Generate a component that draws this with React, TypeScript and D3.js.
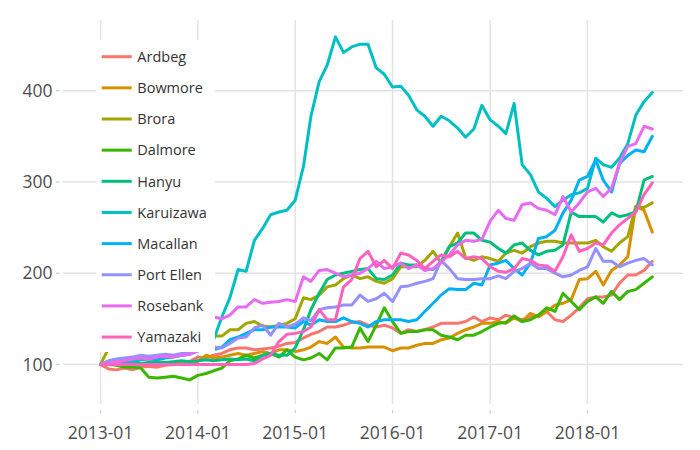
import React from "react";
import * as d3 from "d3";

const seriesNames = ["Ardbeg","Bowmore","Brora","Dalmore","Hanyu","Karuizawa","Macallan","Port Ellen","Rosebank","Yamazaki"];
const colors = ["#F8766D","#D89000","#A3A500","#39B600","#00BF7D","#00BFC4","#00B0F6","#9590FF","#E76BF3","#FF62BC"];
const months = d3.timeMonth.range(new Date(2013, 0, 1), new Date(2018, 9, 1));
const xTickLabels = ["2013-01","2014-01","2015-01","2016-01","2017-01","2018-01"];
const yTicks = [100, 200, 300, 400];

const ardbeg = [100,95,94,96,94,97,98,97,99,100,101,103,108,107,
  110,112,116,118,118,116,117,118,120,123,124,129,133,136,
  141,141,143,146,147,143,141,143,140,134,138,136,138,141,
  145,145,145,147,152,147,151,149,154,151,149,152,154,158,
  149,147,154,162,172,174,174,176,189,198,198,203,213];
const bowmore = [100,104,102,101,100,101,100,102,100,101,103,100,103,110,
  107,108,110,112,110,112,114,112,116,116,114,116,119,125,
  123,130,119,118,118,119,119,119,115,118,118,121,123,123,
  127,129,134,138,141,145,145,147,145,151,147,156,152,158,
  165,167,171,193,194,202,187,203,209,218,273,269,245];
const brora = [100,118,117,119,120,122,123,125,126,128,129,130,131,131,
  131,131,138,138,145,147,142,141,143,145,150,173,171,176,
  185,187,194,198,194,196,191,189,194,207,207,207,214,224,
  211,229,244,217,214,218,216,213,222,225,222,229,233,235,
  235,233,233,233,233,236,229,224,233,240,273,272,277];
const dalmore = [100,100,99,97,97,96,86,85,86,87,85,83,88,90,
  93,96,104,106,110,107,110,112,108,116,108,105,107,112,
  105,118,118,119,140,125,143,162,147,134,136,136,138,138,
  132,130,127,132,132,136,141,145,146,153,147,149,154,162,
  158,178,169,160,169,174,167,180,171,180,182,189,196];
const hanyu = [100,101,100,101,102,101,102,103,102,103,104,103,104,105,
  104,105,106,105,106,104,110,112,110,110,118,138,160,178,
  193,198,200,202,204,205,194,193,198,211,209,209,205,204,
  213,229,233,244,244,236,234,227,222,231,233,225,220,224,
  225,231,267,262,262,262,256,266,262,264,267,302,306];
const karuizawa = [100,101,103,104,103,105,106,105,107,108,110,112,116,120,
  127,152,173,204,202,236,249,264,267,269,280,317,372,410,
  428,459,442,448,451,451,425,418,404,405,395,379,372,361,
  372,367,359,349,358,384,368,361,353,386,319,308,289,282,
  273,280,286,288,293,326,319,316,326,342,373,388,398];
const macallan = [100,103,105,104,106,108,107,106,108,109,110,111,115,118,
  116,119,127,130,134,138,138,141,141,141,140,147,143,149,
  147,147,151,147,145,141,147,149,149,149,147,149,158,167,
  176,183,182,182,189,187,209,211,214,205,198,211,238,240,
  247,266,280,302,306,324,302,289,320,329,335,333,350];
const portEllen = [100,104,106,107,108,110,109,110,111,110,112,113,115,117,
  119,118,123,129,130,140,143,132,145,141,144,151,148,160,
  162,163,165,165,176,169,172,178,169,185,186,189,191,194,
  214,205,194,193,193,194,194,197,194,202,205,211,205,205,
  200,196,198,203,207,227,213,213,207,211,214,216,209];
const rosebank = [100,101,103,104,106,107,106,108,109,108,110,111,115,145,
  152,150,154,163,163,171,167,168,169,171,169,196,191,203,
  204,200,196,198,200,205,213,205,207,211,205,209,203,205,
  212,220,231,236,235,237,257,269,260,258,275,277,271,269,
  264,284,267,277,289,293,284,293,320,339,342,361,358];
const yamazaki = [100,100,100,100,100,100,100,100,100,100,100,100,100,100,
  100,100,100,100,100,101,106,110,125,133,134,136,141,160,
  149,149,185,193,216,224,207,214,205,222,220,214,205,213,
  220,218,224,216,218,216,207,202,201,205,216,214,209,208,
  202,218,242,224,227,233,231,244,253,260,267,286,299];

const seriesValues = [ardbeg, bowmore, brora, dalmore, hanyu, karuizawa, macallan, portEllen, rosebank, yamazaki];

const W = 700, H = 450;
const plot = { left: 63, right: 683, top: 20, bottom: 404 };
const FONT = "'Open Sans', 'DejaVu Sans', sans-serif";

export default function App() {
  const x = d3.scaleTime()
    .domain([new Date(2013, 0, 1), new Date(2018, 0, 1)])
    .range([100.5, 587.5]);
  const y = d3.scaleLinear().domain([100, 400]).range([364.4, 90.7]);
  const parse = d3.timeParse("%Y-%m");
  const fmt = d3.timeFormat("%Y-%m");
  const xTicks = xTickLabels.map((s) => parse(s) as Date);

  const line = d3.line<[Date, number]>()
    .x((d) => x(d[0]))
    .y((d) => y(d[1]))
    .curve(d3.curveLinear);

  const legX = 96, legY = 40, legW = 119, legH = 312;
  const itemY0 = 56.7, itemStep = 31.15;

  return (
    <svg width={W} height={H} style={{ position: "absolute", left: 0, top: 0, background: "#fff" }}>
      <defs>
        <clipPath id="plotclip">
          <rect x={plot.left} y={plot.top} width={plot.right - plot.left} height={plot.bottom - plot.top} />
        </clipPath>
      </defs>
      <rect x={0} y={0} width={W} height={H} fill="#fff" />
      {yTicks.map((t) => (
        <line key={"gy" + t} x1={plot.left} x2={plot.right} y1={y(t)} y2={y(t)} stroke="#e3e3e3" strokeWidth={1.5} />
      ))}
      {xTicks.map((t, i) => (
        <line key={"gx" + i} x1={x(t)} x2={x(t)} y1={plot.top} y2={plot.bottom} stroke="#e3e3e3" strokeWidth={1.5} />
      ))}
      {yTicks.map((t) => (
        <line key={"ty" + t} x1={56} x2={59.5} y1={y(t)} y2={y(t)} stroke="#cfcfcf" strokeWidth={1.3} />
      ))}
      {xTicks.map((t, i) => (
        <line key={"tx" + i} x1={x(t)} x2={x(t)} y1={410} y2={413.5} stroke="#cfcfcf" strokeWidth={1.3} />
      ))}
      {yTicks.map((t) => (
        <text key={"ly" + t} x={52.5} y={y(t)} dy="0.36em" textAnchor="end" fontFamily={FONT} fontSize={17.5} fill="#4d4d4d">{t}</text>
      ))}
      {xTicks.map((t, i) => (
        <text key={"lx" + i} x={x(t)} y={433} dy="0.36em" textAnchor="middle" fontFamily={FONT} fontSize={17.5} fill="#4d4d4d">{fmt(t)}</text>
      ))}
      <g clipPath="url(#plotclip)">
        {seriesValues.map((vals, si) => (
          <path key={seriesNames[si]}
            d={line(vals.map((v, i) => [months[i], v] as [Date, number])) || ""}
            fill="none" stroke={colors[si]} strokeWidth={3} strokeLinejoin="round" strokeLinecap="round" />
        ))}
      </g>
      <rect x={legX} y={legY} width={legW} height={legH} fill="#fff" />
      {seriesNames.map((n, i) => {
        const yy = itemY0 + i * itemStep;
        return (
          <g key={"leg" + n}>
            <line x1={101.7} x2={131.7} y1={yy} y2={yy} stroke={colors[i]} strokeWidth={3} />
            <text x={137.3} y={yy} dy="0.36em" fontFamily={FONT} fontSize={14.5} fill="#333">{n}</text>
          </g>
        );
      })}
    </svg>
  );
}
